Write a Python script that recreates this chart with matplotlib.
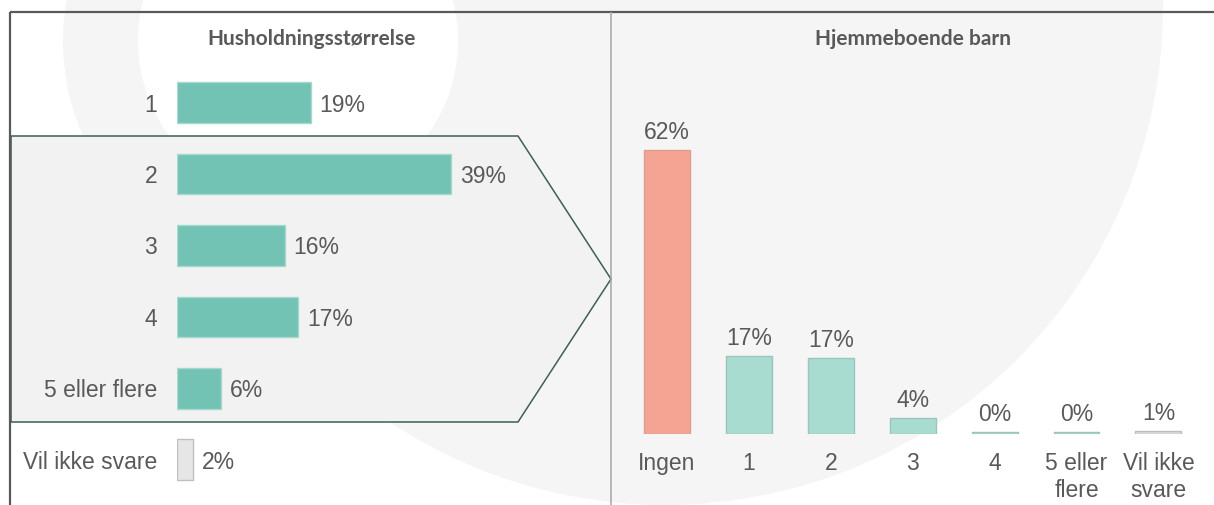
import matplotlib
matplotlib.use("Agg")
import matplotlib.pyplot as plt
from matplotlib.patches import Circle, Polygon

# ---------------- data ----------------
hh_categories = ["1", "2", "3", "4", "5 eller flere", "Vil ikke svare"]
hh_values = [19.0, 39.0, 15.3, 17.2, 6.3, 2.3]
hh_labels = ["19%", "39%", "16%", "17%", "6%", "2%"]

barn_categories = ["Ingen", "1", "2", "3", "4", "5 eller\nflere", "Vil ikke\nsvare"]
barn_values = [62.0, 17.0, 16.5, 3.6, 0.4, 0.4, 0.6]
barn_labels = ["62%", "17%", "17%", "4%", "0%", "0%", "1%"]

title_left = "Husholdningsstørrelse"
title_right = "Hjemmeboende barn"

# ---------------- style ----------------
W, H = 1214, 506
TXT = "#595959"
LABEL_FONT = "Liberation Sans"
LABEL_SIZE = 16.5
TITLE_FONT = "Lato"
TITLE_SIZE = 15

fig = plt.figure(figsize=(W / 100, H / 100), dpi=100)
fig.patch.set_facecolor("white")

# background / decoration axes in pixel coordinates
bg = fig.add_axes([0, 0, 1, 1])
bg.set_xlim(0, W)
bg.set_ylim(H, 0)
bg.axis("off")

grey = "#f5f5f5"
bg.add_patch(Circle((665, 8), 498, facecolor=grey, edgecolor="none", zorder=0))
bg.add_patch(Circle((298, 42), 235, facecolor=grey, edgecolor="none", zorder=0))
bg.add_patch(Circle((298, 42), 160, facecolor="white", edgecolor="none", zorder=1))

# highlight arrow shape
bg.add_patch(Polygon([(11, 137), (518, 137), (611, 280), (518, 423), (11, 423)],
                     closed=True, facecolor="#f2f2f2", edgecolor="#3f5e56",
                     linewidth=1.1, zorder=2))

# frame lines
bg.plot([10, W], [13, 13], color="#595959", lw=1.6, zorder=3, solid_capstyle="butt")
bg.plot([10, 10], [13, H], color="#595959", lw=1.6, zorder=3, solid_capstyle="butt")
bg.plot([611, 611], [13, H], color="#a6a6a6", lw=1.1, zorder=3, solid_capstyle="butt")

# titles
bg.text(311.5, 45, title_left, ha="center", va="baseline", fontsize=TITLE_SIZE,
        fontweight="bold", family=TITLE_FONT, color=TXT, zorder=4)
bg.text(913, 45, title_right, ha="center", va="baseline", fontsize=TITLE_SIZE,
        fontweight="bold", family=TITLE_FONT, color=TXT, zorder=4)

# ---------------- left: horizontal bars ----------------
px_per_pct_l = 7.03
row = 71.4
top_l = 68
axl = fig.add_axes([177 / W, 1 - (top_l + 6 * row) / H, 400 / W, 6 * row / H])
axl.set_xlim(0, 400 / px_per_pct_l)
axl.set_ylim(len(hh_categories) - 0.5, -0.5)
axl.axis("off")
axl.patch.set_alpha(0)

colors_l = ["#72c3b3"] * 5 + ["#e6e6e6"]
edges_l = ["#a6d9cd"] * 5 + ["#bfbfbf"]
for i, (v, c, e) in enumerate(zip(hh_values, colors_l, edges_l)):
    axl.barh(i, v, height=0.57, color=c, edgecolor=e, linewidth=1)
    axl.annotate(hh_categories[i], xy=(0, i), xytext=(-20, -8), textcoords="offset pixels",
                 ha="right", va="baseline", fontsize=LABEL_SIZE, family=LABEL_FONT, color=TXT)
    axl.annotate(hh_labels[i], xy=(v, i), xytext=(9, -8), textcoords="offset pixels",
                 ha="left", va="baseline", fontsize=LABEL_SIZE, family=LABEL_FONT, color=TXT)

# ---------------- right: vertical bars ----------------
px_per_pct_r = 4.58
col = 81.9
left_r = 667 - col / 2
base_y = 435
top_r = 65
axr = fig.add_axes([left_r / W, 1 - base_y / H, 7 * col / W, (base_y - top_r) / H])
axr.set_xlim(-0.5, len(barn_categories) - 0.5)
axr.set_ylim(0, (base_y - top_r) / px_per_pct_r)
axr.axis("off")
axr.patch.set_alpha(0)

colors_r = ["#f5a494"] + ["#a9dcd1"] * 5 + ["#dadada"]
edges_r = ["#dc9e90"] + ["#9cc4ba"] * 5 + ["#bdbdbd"]
for i, (v, c, e) in enumerate(zip(barn_values, colors_r, edges_r)):
    axr.bar(i, v, width=0.56, color=c, edgecolor=e, linewidth=1)
    axr.annotate(barn_labels[i], xy=(i, v), xytext=(0, 12), textcoords="offset pixels",
                 ha="center", va="baseline", fontsize=LABEL_SIZE, family=LABEL_FONT, color=TXT)
    for k, line in enumerate(barn_categories[i].split("\n")):
        axr.annotate(line, xy=(i, 0), xytext=(0, -35 - 27 * k), textcoords="offset pixels",
                     ha="center", va="baseline", fontsize=LABEL_SIZE, family=LABEL_FONT,
                     color=TXT, annotation_clip=False)

fig.savefig("out.png", dpi=100, facecolor="white")
